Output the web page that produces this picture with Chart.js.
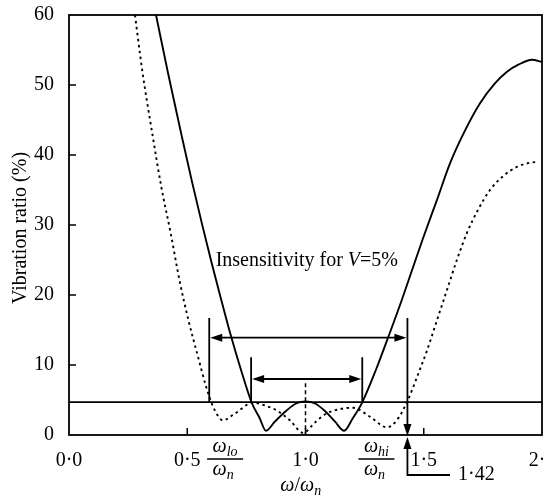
<!DOCTYPE html>
<html lang="en">
<head>
    <meta charset="UTF-8">
    <title>Vibration ratio</title>
    <script src="https://cdn.jsdelivr.net/npm/chart.js@4.4.1/dist/chart.umd.min.js"></script>
    <style>
        html, body { margin: 0; padding: 0; background: #fff; }
        #wrap { width: 543px; height: 498px; }
    </style>
</head>
<body>
    <div id="wrap"><canvas id="vibChart"></canvas></div>

    <script>
        // curves (x = w/wn, y = vibration ratio %)
        const solidX = [0.368, 0.42, 0.478, 0.52, 0.562, 0.603, 0.64, 0.681, 0.73, 0.774, 0.805, 0.833,
                        0.87, 0.92, 0.96, 1.0, 1.04, 1.08, 1.125, 1.163, 1.20, 1.239, 1.30, 1.349, 1.40,
                        1.45, 1.50, 1.556, 1.611, 1.67, 1.738, 1.80, 1.852, 1.90, 1.958, 2.0];
        const solidY = [60, 51.5, 42.5, 36.2, 30.2, 24.6, 19.8, 14.6, 9.0, 4.5, 2.5, 0.6,
                        1.9, 3.5, 4.5, 4.8, 4.5, 3.5, 1.9, 0.6, 2.4, 4.6, 9.5, 13.9, 18.6,
                        23.5, 28.4, 33.6, 38.8, 43.2, 47.4, 50.2, 51.9, 52.9, 53.6, 53.3];

        const dottedX = [0.279, 0.31, 0.35, 0.39, 0.43, 0.469, 0.505, 0.543, 0.579, 0.61, 0.651, 0.695,
                         0.778, 0.83, 0.879, 0.934, 0.99, 1.04, 1.09, 1.146, 1.20, 1.273, 1.344, 1.386,
                         1.433, 1.474, 1.514, 1.556, 1.598, 1.64, 1.683, 1.73, 1.78, 1.84, 1.894, 1.95, 1.98];
        const dottedY = [60, 52.0, 43.5, 35.5, 28.8, 21.8, 16.4, 11.5, 7.0, 4.0, 2.1, 2.9,
                         4.6, 4.2, 3.5, 2.1, 0.3, 1.8, 3.1, 3.7, 3.9, 2.6, 1.1, 2.1,
                         5.0, 8.5, 12.1, 16.4, 20.7, 25.0, 28.9, 32.2, 35.0, 37.1, 38.3, 38.9, 39.0];

        const xTicks = [0, 0.5, 1, 1.5, 2];
        const yTicks = [0, 10, 20, 30, 40, 50, 60];

        // annotation values
        const threshold = 4.7;
        const outerBand = [0.593, 1.431];
        const innerBand = [0.770, 1.240];
        const bandTops = [16.7, 11.1];
        const arrowLevels = [13.9, 8.0];
        const centreMark = [1.0, 7.4];
        const calloutText = '1·42';

        const serif = '"Liberation Serif", "DejaVu Serif", serif';

        const toPoints = (xs, ys) => xs.map((x, i) => ({ x: x, y: ys[i] }));

        function arrowHead(ctx, x, y, dx, dy) {
            const len = 12, half = 4;
            const px = -dy, py = dx;
            ctx.beginPath();
            ctx.moveTo(x, y);
            ctx.lineTo(x - dx * len + px * half, y - dy * len + py * half);
            ctx.lineTo(x - dx * len - px * half, y - dy * len - py * half);
            ctx.closePath();
            ctx.fill();
        }

        // draws w with an italic subscript, centred on cx
        function omega(ctx, cx, baseline, sub) {
            ctx.font = 'italic 20px ' + serif;
            const w1 = ctx.measureText('ω').width;
            ctx.font = 'italic 14px ' + serif;
            const w2 = ctx.measureText(sub).width;
            const left = cx - (w1 + w2) / 2;
            ctx.textAlign = 'left';
            ctx.font = 'italic 20px ' + serif;
            ctx.fillText('ω', left, baseline);
            ctx.font = 'italic 14px ' + serif;
            ctx.fillText(sub, left + w1, baseline + 4);
        }

        const annotations = {
            id: 'annotations',
            afterDatasetsDraw(chart) {
                const ctx = chart.ctx;
                const ca = chart.chartArea;
                const xs = chart.scales.x, ys = chart.scales.y;
                ctx.save();
                ctx.strokeStyle = '#000';
                ctx.fillStyle = '#000';
                ctx.lineCap = 'butt';

                // frame
                ctx.lineWidth = 1.8;
                ctx.strokeRect(ca.left, ca.top, ca.right - ca.left, ca.bottom - ca.top);

                // inward ticks
                ctx.lineWidth = 1.5;
                ctx.beginPath();
                yTicks.slice(1, -1).forEach(v => {
                    const py = ys.getPixelForValue(v);
                    ctx.moveTo(ca.left, py);
                    ctx.lineTo(ca.left + 7, py);
                });
                xTicks.slice(1, -1).forEach(v => {
                    const px = xs.getPixelForValue(v);
                    ctx.moveTo(px, ca.bottom);
                    ctx.lineTo(px, ca.bottom - 7);
                });
                ctx.stroke();

                const yThr = ys.getPixelForValue(threshold);

                // band limits
                ctx.lineWidth = 1.8;
                ctx.beginPath();
                [outerBand, innerBand].forEach((band, i) => {
                    band.forEach(v => {
                        const px = xs.getPixelForValue(v);
                        ctx.moveTo(px, ys.getPixelForValue(bandTops[i]));
                        ctx.lineTo(px, yThr);
                    });
                });
                // right outer limit continues to the axis
                const pr = xs.getPixelForValue(outerBand[1]);
                ctx.moveTo(pr, yThr);
                ctx.lineTo(pr, ca.bottom - 10);
                ctx.stroke();
                arrowHead(ctx, pr, ca.bottom + 1, 0, 1);

                // double arrows
                [outerBand, innerBand].forEach((band, i) => {
                    const py = ys.getPixelForValue(arrowLevels[i]);
                    const a = xs.getPixelForValue(band[0]);
                    const b = xs.getPixelForValue(band[1]);
                    ctx.beginPath();
                    ctx.moveTo(a + 10, py);
                    ctx.lineTo(b - 10, py);
                    ctx.stroke();
                    arrowHead(ctx, a + 1, py, -1, 0);
                    arrowHead(ctx, b - 1, py, 1, 0);
                });

                // dashed centre mark
                ctx.lineWidth = 1.5;
                ctx.setLineDash([4, 3]);
                ctx.beginPath();
                const pc = xs.getPixelForValue(centreMark[0]);
                ctx.moveTo(pc, ys.getPixelForValue(centreMark[1]));
                ctx.lineTo(pc, ca.bottom);
                ctx.stroke();
                ctx.setLineDash([]);

                // callout below the axis
                ctx.lineWidth = 1.8;
                ctx.beginPath();
                ctx.moveTo(pr, ca.bottom + 12);
                ctx.lineTo(pr, ca.bottom + 40);
                ctx.lineTo(xs.getPixelForValue(1.611), ca.bottom + 40);
                ctx.stroke();
                arrowHead(ctx, pr, ca.bottom + 2, 0, -1);
                ctx.font = '20px ' + serif;
                ctx.textAlign = 'left';
                ctx.textBaseline = 'alphabetic';
                ctx.fillText(calloutText, xs.getPixelForValue(1.645), ca.bottom + 45);

                // label inside the plot
                const tx = xs.getPixelForValue(0.62), ty = ys.getPixelForValue(24.1);
                ctx.font = '20px ' + serif;
                const part1 = 'Insensitivity for ';
                ctx.fillText(part1, tx, ty);
                let cx = tx + ctx.measureText(part1).width;
                ctx.font = 'italic 20px ' + serif;
                ctx.fillText('V', cx, ty);
                cx += ctx.measureText('V').width;
                ctx.font = '20px ' + serif;
                ctx.fillText('=5%', cx, ty);

                // fraction labels under the axis
                [[0.66, 'lo'], [1.30, 'hi']].forEach(([v, sub]) => {
                    const px = xs.getPixelForValue(v);
                    omega(ctx, px, ca.bottom + 17, sub);
                    ctx.lineWidth = 1.5;
                    ctx.beginPath();
                    ctx.moveTo(px - 18, ca.bottom + 24);
                    ctx.lineTo(px + 18, ca.bottom + 24);
                    ctx.stroke();
                    omega(ctx, px - 2, ca.bottom + 40, 'n');
                });

                // x axis title  w/wn
                const xt = xs.getPixelForValue(0.98);
                ctx.font = 'italic 20px ' + serif;
                const wW = ctx.measureText('ω').width;
                ctx.font = '20px ' + serif;
                const sW = ctx.measureText('/').width;
                const start = xt - (wW * 2 + sW + 7) / 2;
                ctx.font = 'italic 20px ' + serif;
                ctx.fillText('ω', start, ca.bottom + 56);
                ctx.font = '20px ' + serif;
                ctx.fillText('/', start + wW, ca.bottom + 56);
                ctx.font = 'italic 20px ' + serif;
                ctx.fillText('ω', start + wW + sW, ca.bottom + 56);
                ctx.font = 'italic 14px ' + serif;
                ctx.fillText('n', start + wW * 2 + sW, ca.bottom + 60);

                // y axis title
                ctx.translate(21, (ca.top + ca.bottom) / 2 + 3);
                ctx.rotate(-Math.PI / 2);
                ctx.textAlign = 'center';
                ctx.textBaseline = 'middle';
                ctx.font = '20px ' + serif;
                ctx.fillText('Vibration ratio (%)', 0, 0);

                ctx.restore();
            }
        };

        const ctx = document.getElementById('vibChart').getContext('2d');
        new Chart(ctx, {
            type: 'scatter',
            data: {
                datasets: [{
                    label: 'solid',
                    data: toPoints(solidX, solidY),
                    showLine: true,
                    borderColor: '#000',
                    borderWidth: 1.9,
                    pointRadius: 0,
                    cubicInterpolationMode: 'monotone'
                }, {
                    label: 'dotted',
                    data: toPoints(dottedX, dottedY),
                    showLine: true,
                    borderColor: '#000',
                    borderWidth: 1.9,
                    borderDash: [2.5, 3.5],
                    pointRadius: 0,
                    cubicInterpolationMode: 'monotone'
                }, {
                    label: 'V = 5%',
                    data: toPoints([0, 2], [threshold, threshold]),
                    showLine: true,
                    borderColor: '#000',
                    borderWidth: 1.6,
                    pointRadius: 0
                }]
            },
            options: {
                responsive: true,
                maintainAspectRatio: false,
                animation: false,
                layout: { padding: { top: 15, right: 1, left: 0, bottom: 0 } },
                plugins: {
                    legend: { display: false },
                    tooltip: { enabled: false }
                },
                scales: {
                    x: {
                        type: 'linear',
                        min: 0,
                        max: 2,
                        afterBuildTicks: s => { s.ticks = xTicks.map(v => ({ value: v })); },
                        afterFit: s => { s.height = 63; s.paddingLeft = 0; s.paddingRight = 0; },
                        grid: { display: false },
                        border: { display: false },
                        ticks: {
                            autoSkip: false,
                            maxRotation: 0,
                            padding: 6,
                            color: '#000',
                            font: { family: serif, size: 20 },
                            callback: v => v.toFixed(1).replace('.', '·')
                        }
                    },
                    y: {
                        min: 0,
                        max: 60,
                        afterBuildTicks: s => { s.ticks = yTicks.map(v => ({ value: v })); },
                        afterFit: s => { s.width = 69; s.paddingTop = 0; s.paddingBottom = 0; },
                        grid: { display: false },
                        border: { display: false },
                        ticks: {
                            padding: 7,
                            color: '#000',
                            font: { family: serif, size: 20 }
                        }
                    }
                }
            },
            plugins: [annotations]
        });
    </script>
</body>
</html>
